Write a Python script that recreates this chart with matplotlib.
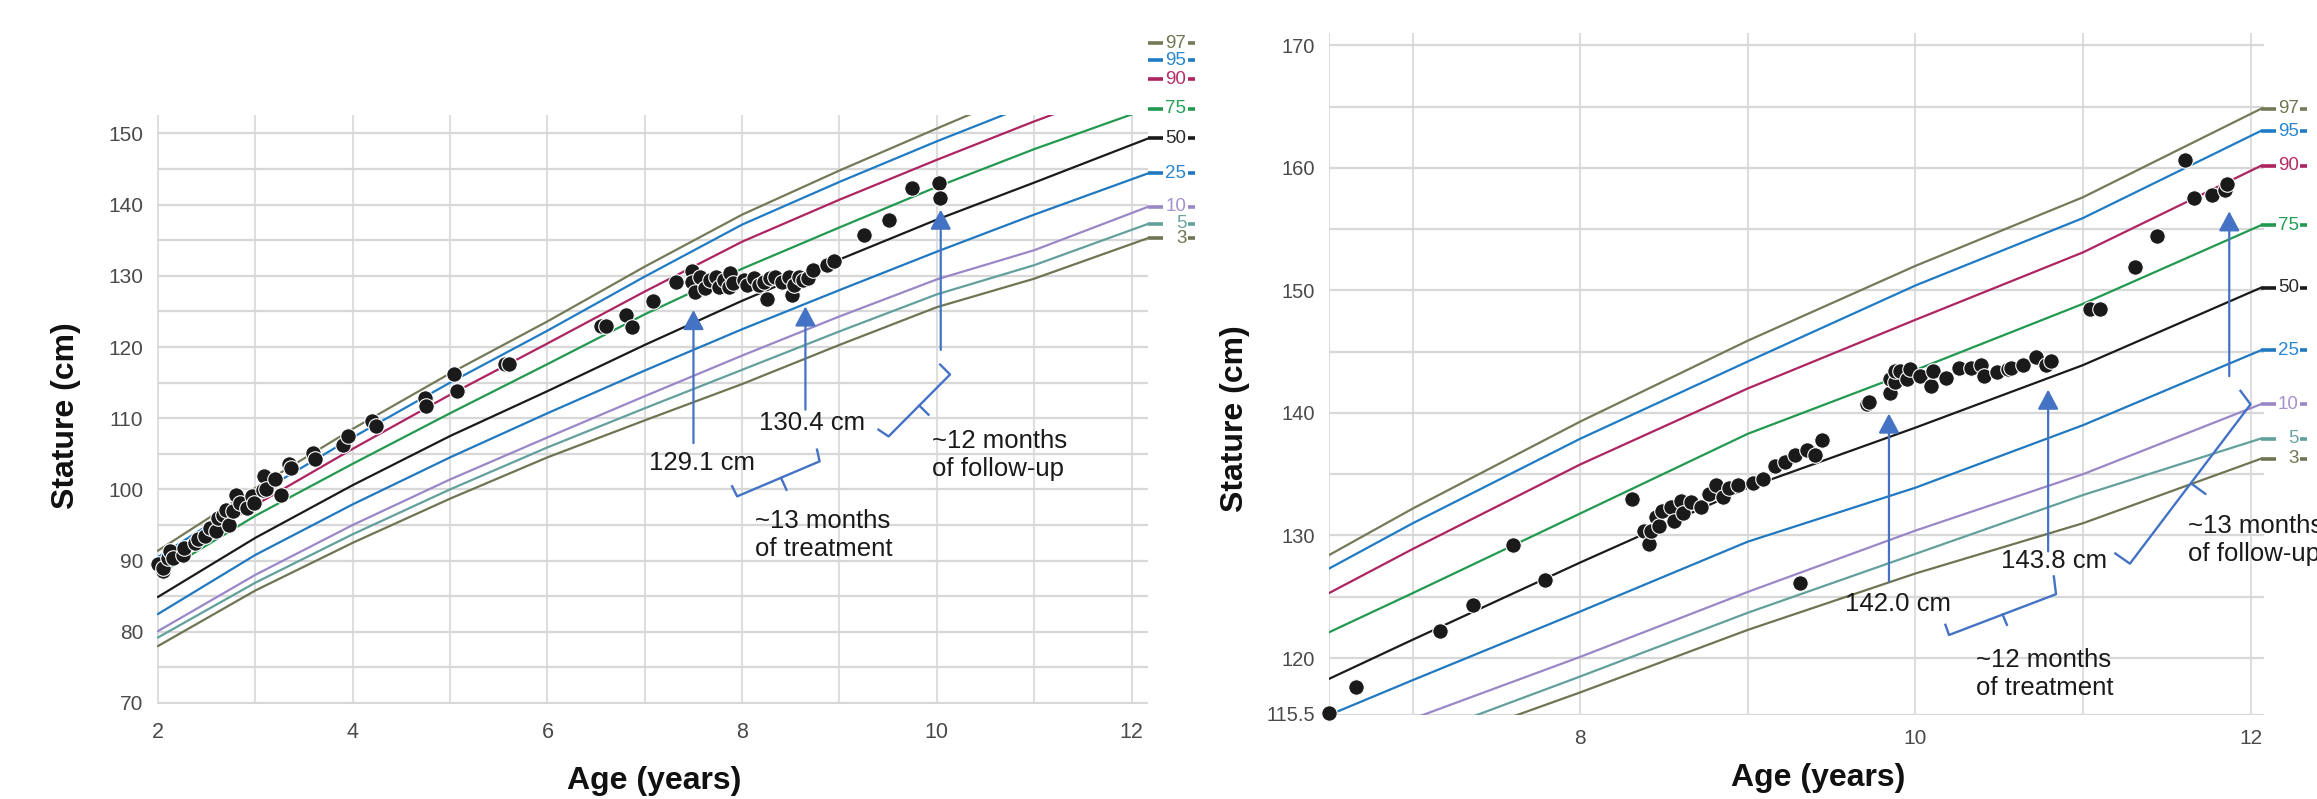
import matplotlib
matplotlib.use("Agg")
import matplotlib.pyplot as plt

plt.rcParams["font.family"] = ["Liberation Sans", "DejaVu Sans"]

PERCENTILES = [97, 95, 90, 75, 50, 25, 10, 5, 3]
LINE_COLORS = ["#737a58", "#1f7bc4", "#ad2460", "#22994f", "#1a1a1a",
               "#2079c0", "#9a87c8", "#62a09b", "#6f7552"]
LABEL_COLORS = ["#6f7552", "#2a86d0", "#b52d66", "#25a055", "#2a2a2a",
                "#2a86d0", "#a592cf", "#6aa7a2", "#6f7552"]
ARROW_BLUE = "#4472c4"

# ---- left chart: percentile curves (cm) ----
left_ages = [2, 3, 4, 5, 6, 7, 8, 9, 10, 11, 12.17]
left_p97 = [91.4, 100.2, 108.5, 116.3, 123.6, 131.3, 138.6, 144.8, 150.7, 156.5, 162.7]
left_p95 = [90.5, 99.2, 107.3, 115.0, 122.3, 129.9, 137.2, 143.2, 148.9, 154.3, 160.3]
left_p90 = [89.3, 97.8, 105.7, 113.3, 120.5, 127.8, 134.8, 140.7, 146.3, 151.7, 157.6]
left_p75 = [88.0, 96.3, 103.6, 110.7, 117.6, 124.6, 131.0, 136.8, 142.5, 147.8, 153.5]
left_p50 = [84.9, 93.2, 100.6, 107.5, 113.8, 120.3, 126.5, 132.3, 137.9, 143.1, 149.3]
left_p25 = [82.5, 90.8, 97.9, 104.5, 110.7, 116.7, 122.5, 128.0, 133.4, 138.6, 144.4]
left_p10 = [80.1, 88.0, 95.0, 101.4, 107.3, 113.1, 118.8, 124.3, 129.5, 133.6, 139.7]
left_p5 = [79.2, 86.9, 93.7, 100.0, 105.9, 111.4, 116.8, 122.2, 127.4, 131.5, 137.3]
left_p3 = [78.0, 85.8, 92.5, 98.7, 104.5, 109.7, 114.8, 120.3, 125.6, 129.6, 135.3]

# measured stature, left chart
left_pt_age = [2.00, 2.05, 2.05, 2.10, 2.12, 2.15, 2.26, 2.27, 2.38, 2.41, 2.48, 2.53,
               2.60, 2.62, 2.67, 2.70, 2.73, 2.77, 2.80, 2.84, 2.91, 2.96, 2.99, 3.08,
               3.09, 3.11, 3.20, 3.26, 3.35, 3.37, 3.59, 3.61, 3.90, 3.95, 4.20, 4.24,
               4.74, 4.75, 5.04, 5.07, 5.56, 5.61,
               6.55, 6.60, 6.81, 6.87, 7.08, 7.32, 7.48, 7.49,
               7.52, 7.57, 7.62, 7.67, 7.73, 7.76, 7.81, 7.86, 7.88, 7.91, 8.02, 8.05,
               8.12, 8.17, 8.22, 8.26, 8.29, 8.34, 8.41, 8.48, 8.51, 8.53, 8.58, 8.63,
               8.68, 8.73, 8.87, 8.94,
               9.25, 9.51, 9.74, 10.02, 10.03]
left_pt_cm = [89.45, 88.5, 89.0, 90.4, 91.3, 90.4, 90.8, 91.8, 92.5, 93.0, 93.4, 94.6,
              94.1, 96.0, 96.4, 97.1, 95.0, 96.9, 99.2, 98.1, 97.4, 99.1, 98.1, 99.9,
              101.9, 100.0, 101.4, 99.2, 103.5, 103.0, 105.1, 104.2, 106.3, 107.5, 109.55, 108.85,
              112.8, 111.7, 116.25, 113.8, 117.6, 117.6,
              122.9, 123.0, 124.5, 122.8, 126.5, 129.2, 130.75, 129.2,
              127.8, 129.9, 128.3, 129.4, 129.9, 128.5, 129.4, 128.5, 130.4, 129.0, 129.4, 128.7,
              129.7, 128.7, 129.2, 126.7, 129.7, 129.9, 129.2, 129.9, 127.3, 128.7, 129.9, 129.4,
              129.7, 130.8, 131.5, 132.1,
              135.75, 137.8, 142.4, 143.0, 141.0]

# ---- right chart: percentile curves (cm) ----
right_ages = [6.5, 7, 8, 9, 10, 11, 12.06]
right_p97 = [128.4, 132.2, 139.3, 145.9, 152.0, 157.6, 164.8]
right_p95 = [127.3, 131.0, 137.9, 144.2, 150.4, 155.9, 163.0]
right_p90 = [125.3, 128.9, 135.8, 142.0, 147.6, 153.1, 160.15]
right_p75 = [122.1, 125.3, 131.8, 138.3, 143.5, 148.9, 155.3]
right_p50 = [118.3, 121.5, 127.8, 133.9, 138.8, 143.9, 150.2]
right_p25 = [115.35, 118.2, 123.8, 129.5, 133.9, 139.0, 145.1]
right_p10 = [112.5, 115.05, 120.1, 125.4, 130.4, 135.0, 140.7]
right_p5 = [110.8, 113.4, 118.5, 123.7, 128.5, 133.3, 137.9]
right_p3 = [109.8, 112.3, 117.2, 122.3, 126.9, 131.0, 136.25]

# measured stature, right chart
right_pt_age = [6.50, 6.66, 7.16, 7.36, 7.60, 7.79, 8.31, 8.38, 8.41, 8.42, 8.45, 8.47,
                8.49, 8.54, 8.56, 8.60, 8.61, 8.66, 8.72, 8.77, 8.81, 8.85, 8.89, 8.94,
                9.03, 9.09, 9.16, 9.22, 9.28, 9.31, 9.35, 9.40, 9.44,
                9.71, 9.72, 9.85, 9.85, 9.88, 9.88, 9.91, 9.95, 9.97, 10.03, 10.09, 10.105,
                10.18, 10.26, 10.33, 10.39, 10.41, 10.485, 10.55, 10.57, 10.64, 10.72,
                10.78, 10.81,
                11.04, 11.10, 11.31, 11.44, 11.61, 11.66, 11.77, 11.85, 11.86]
right_pt_cm = [115.55, 117.6, 122.2, 124.3, 129.2, 126.4, 133.0, 130.4, 129.3, 130.4, 131.5, 130.8,
               132.0, 132.3, 131.2, 132.85, 131.8, 132.7, 132.3, 133.4, 134.1, 133.1, 133.9, 134.1,
               134.3, 134.6, 135.7, 136.0, 136.6, 126.1, 137.0, 136.6, 137.8,
               140.7, 140.9, 141.6, 142.8, 142.5, 143.4, 143.4, 142.8, 143.6, 143.0, 142.2, 143.4,
               142.85, 143.7, 143.7, 143.9, 143.0, 143.3, 143.6, 143.7, 143.9, 144.6,
               143.9, 144.2,
               148.5, 148.5, 151.9, 154.4, 160.6, 157.5, 157.8, 158.2, 158.7]


def draw_panel(ax, ages, curves, pt_age, pt_cm, xlim, ylim, xticks, yticks,
               xgrid, ygrid, xtick_size, ytick_size, xpad):
    ax.set_xlim(*xlim)
    ax.set_ylim(*ylim)
    for gx in xgrid:
        ax.axvline(gx, color="#dedede", lw=1.5, zorder=0)
    for gy in ygrid:
        ax.axhline(gy, color="#d8d8d8", lw=1.6, zorder=0)
    for spine in ax.spines.values():
        spine.set_visible(False)
    ax.set_xticks(xticks)
    ax.set_yticks(yticks)
    ax.set_yticklabels([f"{t:g}" for t in yticks])
    ax.tick_params(axis="x", length=0, pad=xpad, labelsize=xtick_size, labelcolor="#4a4a4a")
    ax.tick_params(axis="y", length=0, pad=10, labelsize=ytick_size, labelcolor="#4a4a4a")

    # per-point width in data units, for the end-of-curve tags
    x0, x1 = ax.get_xlim()
    per_pt = (x1 - x0) / ax.get_window_extent().width * (100 / 72)

    for pct, vals, lc, tc in zip(PERCENTILES, curves, LINE_COLORS, LABEL_COLORS):
        ax.plot(ages, vals, color=lc, lw=1.6, zorder=2)
        end_x, end_y = ages[-1], vals[-1]
        # tag: dash, number, dash
        ax.plot([end_x, end_x + 11 * per_pt], [end_y, end_y], color=lc, lw=2.6,
                clip_on=False, solid_capstyle="butt")
        ax.annotate(str(pct), xy=(end_x, end_y), xytext=(27.5, 0),
                    textcoords="offset points", ha="right", va="center",
                    fontsize=13.5, color=tc, annotation_clip=False)
        ax.plot([end_x + 28.5 * per_pt, end_x + 33.5 * per_pt], [end_y, end_y],
                color=lc, lw=2.6, clip_on=False, solid_capstyle="butt")

    ax.scatter(pt_age, pt_cm, s=125, color="#1a1a1a", edgecolor="white",
               linewidth=0.8, zorder=4, clip_on=False)


def brace(ax, pts, tick):
    ax.plot([p[0] for p in pts], [p[1] for p in pts], color=ARROW_BLUE, lw=1.7,
            clip_on=False, zorder=5)
    ax.plot([tick[0][0], tick[1][0]], [tick[0][1], tick[1][1]], color=ARROW_BLUE,
            lw=1.7, clip_on=False, zorder=5)


def arrow(ax, x, y_from, y_to):
    ax.annotate("", xy=(x, y_to), xytext=(x, y_from),
                arrowprops=dict(arrowstyle="-|>,head_length=0.6,head_width=0.32",
                                color=ARROW_BLUE, lw=1.6, mutation_scale=20,
                                shrinkA=0, shrinkB=0),
                zorder=5)


fig = plt.figure(figsize=(23.17, 7.99), dpi=100)
fig.patch.set_facecolor("white")

ax_l = fig.add_axes([0.0678, 0.1189, 0.4277, 0.7372])
ax_r = fig.add_axes([0.5736, 0.1051, 0.4035, 0.8536])

left_curves = [left_p97, left_p95, left_p90, left_p75, left_p50,
               left_p25, left_p10, left_p5, left_p3]
right_curves = [right_p97, right_p95, right_p90, right_p75, right_p50,
                right_p25, right_p10, right_p5, right_p3]

draw_panel(ax_l, left_ages, left_curves, left_pt_age, left_pt_cm,
           xlim=(1.99, 12.17), ylim=(69.85, 152.6),
           xticks=[2, 4, 6, 8, 10, 12], yticks=[70, 80, 90, 100, 110, 120, 130, 140, 150],
           xgrid=range(2, 13), ygrid=range(70, 155, 5), xtick_size=15.5, ytick_size=15,
           xpad=13)
draw_panel(ax_r, right_ages, right_curves, right_pt_age, right_pt_cm,
           xlim=(6.5, 12.08), ylim=(115.35, 171),
           xticks=[8, 10, 12], yticks=[115.5, 120, 130, 140, 150, 160, 170],
           xgrid=[6.5, 7, 8, 9, 10, 11, 12], ygrid=list(range(120, 171, 5)) + [115.35],
           xtick_size=15, ytick_size=14.5, xpad=10)

for ax, lx, ly, ax_x, ax_y in [(ax_l, -0.0767, 0.489, 0.5015, -0.105),
                               (ax_r, -0.0845, 0.435, 0.523, -0.0704)]:
    ax.set_ylabel("Stature (cm)", fontsize=23, fontweight="bold", color="#111111")
    ax.yaxis.set_label_coords(lx, ly)
    ax.set_xlabel("Age (years)", fontsize=23, fontweight="bold", color="#111111")
    ax.xaxis.set_label_coords(ax_x, ax_y)

TXT = dict(fontsize=18.5, color="#1a1a1a", zorder=6)

# left annotations
arrow(ax_l, 7.50, 106.5, 125.2)
arrow(ax_l, 8.65, 111.2, 125.7)
arrow(ax_l, 10.04, 119.6, 139.3)
ax_l.text(7.59, 103.7, "129.1 cm", ha="center", va="center", **TXT)
ax_l.text(8.72, 109.3, "130.4 cm", ha="center", va="center", **TXT)
brace(ax_l, [(7.897, 100.43), (7.949, 99.02), (8.796, 103.94), (8.769, 105.58)],
      [(8.40, 101.6), (8.455, 99.95)])
brace(ax_l, [(9.401, 108.39), (9.504, 107.44), (10.136, 116.14), (10.034, 117.54)],
      [(9.82, 111.78), (9.914, 110.5)])
ax_l.text(8.13, 93.55, "~13 months\nof treatment", ha="left", va="center", **TXT)
ax_l.text(9.95, 104.85, "~12 months\nof follow-up", ha="left", va="center", **TXT)

# right annotations
arrow(ax_r, 9.842, 126.25, 139.95)
arrow(ax_r, 10.792, 128.7, 141.9)
arrow(ax_r, 11.873, 143.0, 156.45)
ax_r.text(9.898, 124.4, "142.0 cm", ha="center", va="center", **TXT)
ax_r.text(10.826, 127.9, "143.8 cm", ha="center", va="center", **TXT)
brace(ax_r, [(10.179, 122.71), (10.20, 121.88), (10.839, 125.21), (10.826, 126.66)],
      [(10.52, 123.55), (10.546, 122.71)])
brace(ax_r, [(11.193, 128.53), (11.28, 127.7), (12.0, 140.7), (11.94, 141.8)],
      [(11.65, 134.2), (11.73, 133.4)])
ax_r.text(10.36, 118.7, "~12 months\nof treatment", ha="left", va="center", **TXT)
ax_r.text(11.625, 129.6, "~13 months\nof follow-up", ha="left", va="center",
          clip_on=False, **TXT)

fig.savefig("out.png", dpi=100, facecolor="white")
